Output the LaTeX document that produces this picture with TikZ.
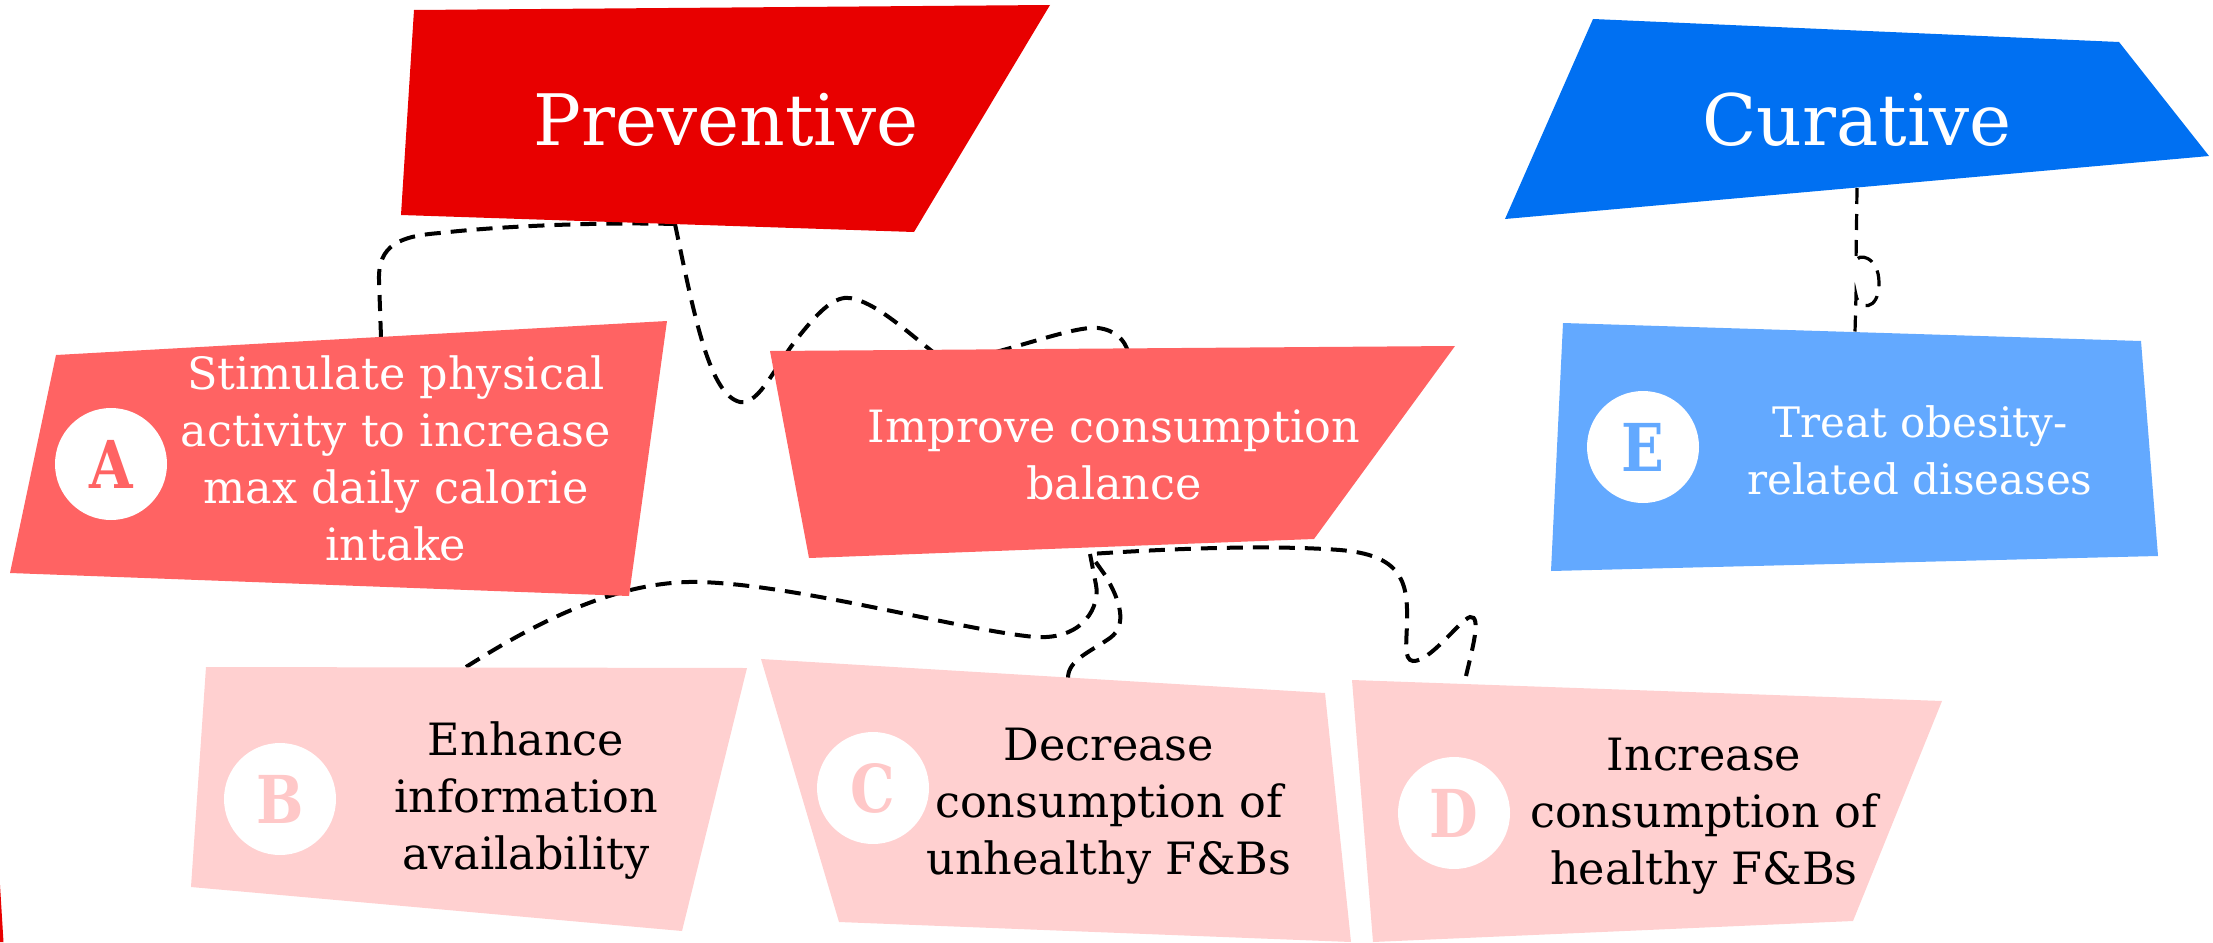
\documentclass[tikz,border=0pt]{standalone}
\usepackage{fontspec}
\setmainfont{DejaVu Serif}
\newfontfamily\letterfont{DejaVu Serif}[FakeStretch=0.85]
\definecolor{prevred}{HTML}{E80000}
\definecolor{curblue}{HTML}{0070F2}
\definecolor{salmon}{HTML}{FF6363}
\definecolor{lblue}{HTML}{63A9FF}
\definecolor{pinkbox}{HTML}{FFD0D0}
\definecolor{pinkletter}{HTML}{FFC8C8}
\begin{document}
\begin{tikzpicture}[x=1pt,y=-1pt,
  conn/.style={draw=black, line width=4pt, dash pattern=on 16pt off 10pt},
  boxtext/.style={align=center, font=\fontsize{44.5}{57}\selectfont, inner sep=0pt},
  titletext/.style={font=\fontsize{71}{80}\selectfont, text=white, inner sep=0pt},
  badge/.style={circle, fill=white, minimum size=112pt, inner sep=0pt,
    font=\letterfont\bfseries\fontsize{66}{66}\selectfont}]
\useasboundingbox (0,0) rectangle (2213,942);
% anchor points on the shapes
\coordinate (Atop) at (381,337);
\coordinate (Pbot) at (675,224);
\coordinate (Itopa) at (933,352);
\coordinate (Itopb) at (996,352);
\coordinate (Itopc) at (1128,352);
\coordinate (Ibot) at (1090,554);
\coordinate (Btop) at (466,667);
\coordinate (Ctop) at (1068,678);
\coordinate (Dtop) at (1466,676);
\coordinate (Cbot) at (1857,188);
\coordinate (Etop) at (1855,332);
% connectors (behind the shapes)
\draw[conn] (Atop) -- (379,280) .. controls (378,245) and (400,236) .. (440,233)
  .. controls (500,226) and (600,222) .. (Pbot);
\draw[conn] (Pbot) .. controls (695,320) and (710,395) .. (740,402)
  .. controls (760,405) and (775,365) .. (800,335)
  .. controls (820,310) and (835,296) .. (850,298)
  .. controls (875,302) and (905,330) .. (Itopa);
\draw[conn] (Itopb) .. controls (1040,340) and (1080,326) .. (1098,328)
  .. controls (1115,330) and (1125,340) .. (Itopc);
\draw[conn] (Btop) .. controls (540,620) and (620,580) .. (700,582)
  .. controls (800,585) and (960,630) .. (1035,637)
  .. controls (1085,640) and (1100,605) .. (1096,585) -- (Ibot);
\draw[conn] (Ctop) .. controls (1068,660) and (1090,652) .. (1110,638)
  .. controls (1128,625) and (1120,600) .. (1105,575) -- (Ibot);
\draw[conn] (Dtop) .. controls (1472,650) and (1482,615) .. (1470,617)
  .. controls (1460,620) and (1430,662) .. (1413,661)
  .. controls (1403,660) and (1407,640) .. (1407,620)
  .. controls (1408,580) and (1400,555) .. (1340,550)
  .. controls (1260,544) and (1150,550) .. (Ibot);
\draw[conn, line width=3.2pt] (Cbot) -- (1856,262) .. controls (1857,252) and (1879,256) .. (1879,283)
  .. controls (1879,312) and (1858,310) .. (1856,295) -- (Etop);
% shapes
\fill[prevred] (414,10) -- (1050,5) -- (914,232) -- (401,215) -- cycle;
\fill[curblue] (1593,19) -- (2119,42) -- (2209,156) -- (1505,219) -- cycle;
\fill[salmon] (56,355) -- (667,321) -- (629,596) -- (10,573) -- cycle;
\fill[salmon] (770,351) -- (1455,346) -- (1314,539) -- (809,558) -- cycle;
\fill[lblue] (1563,323) -- (2141,341) -- (2158,556) -- (1551,571) -- cycle;
\fill[pinkbox] (206,667) -- (747,668) -- (682,931) -- (191,887) -- cycle;
\fill[pinkbox] (761,659) -- (1325,693) -- (1351,942) -- (839,922) -- cycle;
\fill[pinkbox] (1352,680) -- (1942,701) -- (1853,921) -- (1373,942) -- cycle;
\fill[prevred] (0,885) -- (3.5,942) -- (0,942) -- cycle;
% titles
\node[titletext] (prev) at (726,120) {Preventive};
\node[titletext] (cur) at (1857,120) {Curative};
% badges
\node[badge, text=salmon] (bA) at (111,464) {A};
\node[badge, text=pinkletter] (bB) at (280,799) {B};
\node[badge, text=pinkletter] (bC) at (873,788) {C};
\node[badge, text=pinkletter] (bD) at (1454,813) {D};
\node[badge, text=lblue] (bE) at (1643,447) {E};
% box texts
\node[boxtext, text=white] (tA) at (396,458) {Stimulate physical\\activity to increase\\max daily calorie\\intake};
\node[boxtext, text=white] (tI) at (1114,455) {Improve consumption\\balance};
\node[boxtext, text=white, font=\fontsize{42}{57}\selectfont] (tE) at (1920,450) {Treat obesity-\\related diseases};
\node[boxtext, text=black] (tB) at (526,801) {Enhance\\information\\availability};
\node[boxtext, text=black] (tC) at (1109,806) {Decrease\\consumption of\\unhealthy F\&Bs};
\node[boxtext, text=black] (tD) at (1704,816) {Increase\\consumption of\\healthy F\&Bs};
\end{tikzpicture}
\end{document}
